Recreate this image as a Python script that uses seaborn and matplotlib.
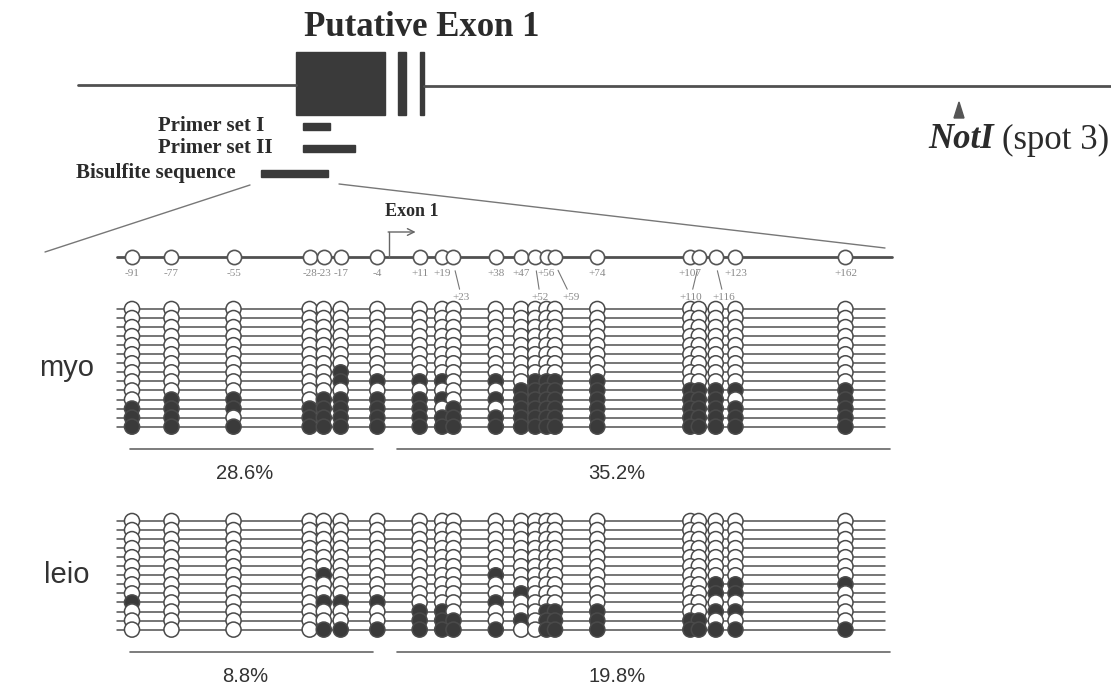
import numpy as np
import pandas as pd
import matplotlib
matplotlib.use("Agg")
import matplotlib.pyplot as plt
from matplotlib.patches import Rectangle, Polygon
import seaborn as sns

# CpG sites relative to the transcription start site (bp)
CPG_SITES = [-91, -77, -55, -28, -23, -17, -4, 11, 19, 23, 38, 47, 52, 56, 59,
             74, 107, 110, 116, 123, 162]
# sites whose label is set on a second line with a leader (horizontal nudge, px)
LOW_LABELS = {23: 8, 52: 5, 59: 16, 110: -8, 116: 8}

SAMPLES = ["myo", "leio"]
# bisulfite clones: one string per clone, one character per CpG site (1 = methylated)
MYO_CLONES = [
    "000000000000000000000",
    "000000000000000000000",
    "000000000000000000000",
    "000000000000000000000",
    "000000000000000000000",
    "000000000000000000000",
    "000000000000000000000",
    "000001000000000000000",
    "000001111010111100000",
    "000000000001111111111",
    "011011111011111111101",
    "111111110101111111111",
    "110111111111111111111",
    "111111111111111111111",
]
LEIO_CLONES = [
    "000000000000000000000",
    "000000000000000000000",
    "000000000000000000000",
    "000000000000000000000",
    "000000000000000000000",
    "000000000000000000000",
    "000010000010000000000",
    "000000000000000000111",
    "000000000001000000110",
    "100011100010000000000",
    "000000011000011100110",
    "000000011101011111000",
    "000011111110011111111",
]
CLONES = {"myo": MYO_CLONES, "leio": LEIO_CLONES}

# ---------------------------------------------------------------- styling
sns.set_theme(style="white")
plt.rcParams["font.family"] = ["Liberation Serif", "DejaVu Serif"]
INK = "#3a3a3a"
LINE = "#505050"
SANS = ["Liberation Sans", "DejaVu Sans"]

W, H = 1111, 689
fig = plt.figure(figsize=(W / 100, H / 100), dpi=100)

# pixel-space canvas for the schematic
ax = fig.add_axes([0, 0, 1, 1])
ax.set_xlim(0, W)
ax.set_ylim(H, 0)
ax.axis("off")

# CpG axis in bp, laid over the canvas
PX0, PX_PER_BP = 132.0, 2.82
axb = fig.add_axes([0, 0, 1, 1])
axb.set_xlim(CPG_SITES[0] - PX0 / PX_PER_BP, CPG_SITES[0] + (W - PX0) / PX_PER_BP)
axb.set_ylim(H, 0)
axb.axis("off")
axb.patch.set_alpha(0)


def bp_px(b):
    return PX0 + (b - CPG_SITES[0]) * PX_PER_BP


# ---------------------------------------------------------------- gene schematic
ax.plot([78, 296], [85, 85], color=LINE, lw=2)
ax.plot([424, W], [86, 86], color=LINE, lw=2)
ax.add_patch(Rectangle((296, 52), 89, 63, color=INK))
ax.add_patch(Rectangle((398, 52), 8, 63, color=INK))
ax.add_patch(Rectangle((420, 52), 4, 63, color=INK))
ax.text(422, 28, "Putative Exon 1", ha="center", va="center", fontsize=25,
        fontweight="bold", color="#2b2b2b")

for label, x0, x1, y, lx in [("Primer set I", 303, 330, 126, 264),
                              ("Primer set II", 303, 355, 148, 273),
                              ("Bisulfite sequence", 261, 328, 173, 236)]:
    ax.add_patch(Rectangle((x0, y - 3.5), x1 - x0, 7, color=INK))
    ax.text(lx, y, label, ha="right", va="center", fontsize=15,
            fontweight="bold", color="#2b2b2b")

# NotI site
ax.add_patch(Polygon([[954, 118], [964, 118], [959, 102]], closed=True, color="#555"))
spot = ax.text(1109, 140, "(spot 3)", ha="right", va="center", fontsize=25,
               color="#2b2b2b")
renderer = fig.canvas.get_renderer()
spot_left = ax.transData.inverted().transform(
    spot.get_window_extent(renderer).p0)[0]
ax.text(spot_left - 8, 140, "NotI", ha="right", va="center", fontsize=25,
        fontweight="bold", style="italic", color="#2b2b2b")

# zoom guides to the CpG map
ax.plot([250, 45], [185, 252], color="#777", lw=1)
ax.plot([339, 885], [184, 248], color="#777", lw=1)

# ---------------------------------------------------------------- CpG map
CPG_Y = 257
ax.plot([117, 892], [CPG_Y, CPG_Y], color=LINE, lw=2)
sns.scatterplot(x=CPG_SITES, y=[CPG_Y] * len(CPG_SITES), ax=axb, s=105,
                color="white", edgecolor="#555", linewidth=1.2, legend=False,
                zorder=3)
for site in CPG_SITES:
    text = f"{site:+d}" if site > 0 else f"-{abs(site)}"
    if site in LOW_LABELS:
        x = bp_px(site)
        ax.annotate(text, xy=(x, CPG_Y + 7), xytext=(x + LOW_LABELS[site], 297),
                    ha="center", va="center", fontsize=8, color="#8a8a8a",
                    arrowprops=dict(arrowstyle="-", color="#777", lw=0.8,
                                    shrinkA=0, shrinkB=5))
    else:
        axb.text(site, 274, text, ha="center", va="center", fontsize=8,
                 color="#8a8a8a")

# transcription start arrow
tss = bp_px(0)
ax.plot([tss, tss], [CPG_Y, 232], color="#666", lw=1)
ax.annotate("", xy=(tss + 27, 232), xytext=(tss - 0.5, 232),
            arrowprops=dict(arrowstyle="->", color="#666", lw=1,
                            shrinkA=0, shrinkB=0, mutation_scale=12))
ax.text(412, 212, "Exon 1", ha="center", va="center", fontsize=13,
        fontweight="bold", color="#2b2b2b")

# ---------------------------------------------------------------- clone matrices
ROW_TOP = {"myo": 309, "leio": 521}
ROW_STEP = 9.05
promoter = np.array(CPG_SITES) < 0

for sample in SAMPLES:
    clones = CLONES[sample]
    mat = np.array([[int(c) for c in row] for row in clones])
    ys = ROW_TOP[sample] + ROW_STEP * np.arange(len(clones))
    for y in ys:
        ax.plot([117, 885], [y, y], color=LINE, lw=1.1, zorder=1)

    # top clone first so each lower circle overlaps the one above it
    df = pd.DataFrame({
        "site": np.tile(CPG_SITES, len(clones)),
        "y": np.repeat(ys, len(CPG_SITES)),
        "state": np.where(mat.ravel() == 1, "methylated", "unmethylated"),
    })
    sns.scatterplot(data=df, x="site", y="y", hue="state", ax=axb, s=118,
                    palette={"methylated": INK, "unmethylated": "white"},
                    edgecolor="#4a4a4a", linewidth=1.1, legend=False, zorder=3)

    mid = (ys[0] + ys[-1]) / 2
    ax.text(67, mid, sample, ha="center", va="center", fontsize=21,
            family=SANS, color="#333")

    line_y = ys[-1] + 22
    ax.plot([130, 373], [line_y, line_y], color="#666", lw=1.2)
    ax.plot([397, 890], [line_y, line_y], color="#666", lw=1.2)
    left_pct = 100 * mat[:, promoter].mean()
    right_pct = 100 * mat[:, ~promoter].mean()
    ax.text(245, line_y + 25, f"{left_pct:.1f}%", ha="center", va="center",
            fontsize=14.5, family=SANS, color="#333")
    ax.text(617, line_y + 25, f"{right_pct:.1f}%", ha="center", va="center",
            fontsize=14.5, family=SANS, color="#333")

fig.savefig("out.png", dpi=100, facecolor="white")
